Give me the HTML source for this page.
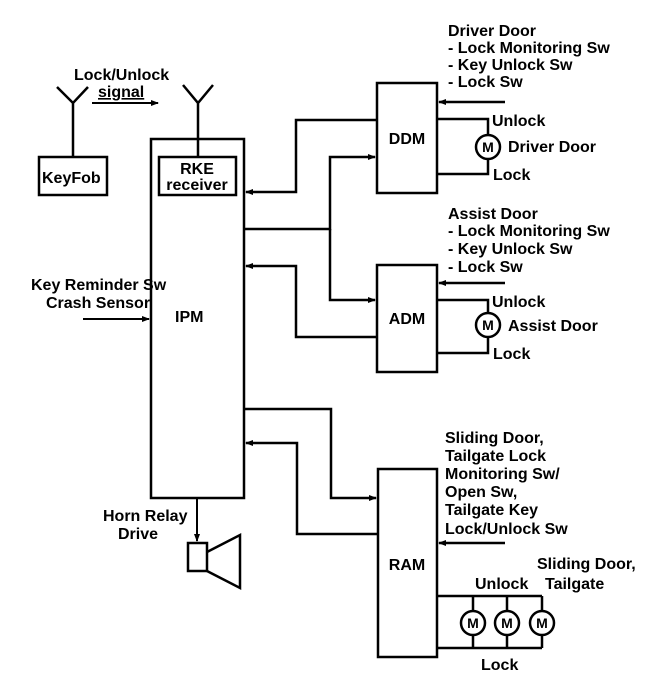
<!DOCTYPE html>
<html><head><meta charset="utf-8"><style>
html,body{margin:0;padding:0;background:#fff;}
svg{display:block;}
text{font-family:"Liberation Sans",sans-serif;font-size:16px;fill:#000;font-weight:bold;}
text.m{font-size:14px;}
</style></head><body>
<svg width="672" height="680" viewBox="0 0 672 680" xmlns="http://www.w3.org/2000/svg">
<defs>
<marker id="a" markerWidth="8" markerHeight="8" refX="7" refY="4" orient="auto" markerUnits="userSpaceOnUse">
<path d="M0,1 L8,4 L0,7 z" fill="#000"/></marker>
</defs>
<g stroke="#000" stroke-width="2.5" fill="none">
<path d="M57,87 L73,103 L88,87 M73,103 V157"/>
<rect x="39" y="157" width="68" height="38"/>
<path d="M183,85 L198,103 L213,85 M198,103 V157"/>
<rect x="151" y="139" width="93" height="359"/>
<rect x="159" y="157" width="77" height="38"/>
<rect x="377" y="83" width="60" height="110"/>
<rect x="377" y="265" width="60" height="107"/>
<rect x="378" y="469" width="59" height="188"/>
<path d="M377,120 H296 V192 H246" marker-end="url(#a)"/>
<path d="M244,229 H330 V157 H375" marker-end="url(#a)"/>
<path d="M330,229 V300 H375" marker-end="url(#a)"/>
<path d="M377,337 H296 V266 H246" marker-end="url(#a)"/>
<path d="M244,409 H331 V498 H376" marker-end="url(#a)"/>
<path d="M378,534 H297 V443 H246" marker-end="url(#a)"/>
<path d="M197,498 V541" marker-end="url(#a)" stroke-width="2"/>
<path d="M83,319 H149" marker-end="url(#a)" stroke-width="2"/>
<path d="M92,103 H158" marker-end="url(#a)" stroke-width="2"/>
<path d="M505,102 H439" marker-end="url(#a)"/>
<path d="M505,283 H439" marker-end="url(#a)"/>
<path d="M505,543 H439" marker-end="url(#a)"/>
<rect x="188" y="543" width="19" height="28"/>
<path d="M207,552 L240,535 V588 L207,571"/>
<path d="M437,119 H488 V135 M488,159 V174 H437"/>
<circle cx="488" cy="147" r="12"/>
<path d="M437,300 H488 V313 M488,337 V353 H437"/>
<circle cx="488" cy="325" r="12"/>
<path d="M437,596 H542 M437,648 H542 M473,596 V611 M473,635 V648 M507,596 V611 M507,635 V648 M542,596 V611 M542,635 V648"/>
<circle cx="473" cy="623" r="12"/>
<circle cx="507" cy="623" r="12"/>
<circle cx="542" cy="623" r="12"/>
</g>
<g>
<text class="m" x="488" y="152" text-anchor="middle">M</text>
<text class="m" x="488" y="330" text-anchor="middle">M</text>
<text class="m" x="473" y="628" text-anchor="middle">M</text>
<text class="m" x="507" y="628" text-anchor="middle">M</text>
<text class="m" x="542" y="628" text-anchor="middle">M</text>
<text x="74" y="80">Lock/Unlock</text>
<text x="98" y="97" text-decoration="underline">signal</text>
<text x="42" y="183">KeyFob</text>
<text x="197" y="174" text-anchor="middle">RKE</text>
<text x="197" y="190" text-anchor="middle">receiver</text>
<text x="31" y="290" font-weight="normal">Key Reminder Sw</text>
<text x="46" y="308" font-weight="normal">Crash Sensor</text>
<text x="175" y="322">IPM</text>
<text x="407" y="144" text-anchor="middle">DDM</text>
<text x="407" y="324" text-anchor="middle">ADM</text>
<text x="407" y="570" text-anchor="middle">RAM</text>
<text x="103" y="521" font-weight="normal">Horn Relay</text>
<text x="118" y="539" font-weight="normal">Drive</text>
<text x="448" y="36">Driver Door</text>
<text x="448" y="53">- Lock Monitoring Sw</text>
<text x="448" y="70" font-weight="normal">- Key Unlock Sw</text>
<text x="448" y="87" font-weight="normal">- Lock Sw</text>
<text x="492" y="126">Unlock</text>
<text x="508" y="152" font-weight="normal">Driver Door</text>
<text x="493" y="180">Lock</text>
<text x="448" y="219">Assist Door</text>
<text x="448" y="236">- Lock Monitoring Sw</text>
<text x="448" y="254" font-weight="normal">- Key Unlock Sw</text>
<text x="448" y="272">- Lock Sw</text>
<text x="492" y="307">Unlock</text>
<text x="508" y="331">Assist Door</text>
<text x="493" y="359">Lock</text>
<text x="445" y="443">Sliding Door,</text>
<text x="445" y="461">Tailgate Lock</text>
<text x="445" y="479">Monitoring Sw/</text>
<text x="445" y="497">Open Sw,</text>
<text x="445" y="515">Tailgate Key</text>
<text x="445" y="534">Lock/Unlock Sw</text>
<text x="537" y="569">Sliding Door,</text>
<text x="545" y="589" font-weight="normal">Tailgate</text>
<text x="475" y="589" font-weight="normal">Unlock</text>
<text x="481" y="670">Lock</text>
</g>
</svg>
</body></html>
